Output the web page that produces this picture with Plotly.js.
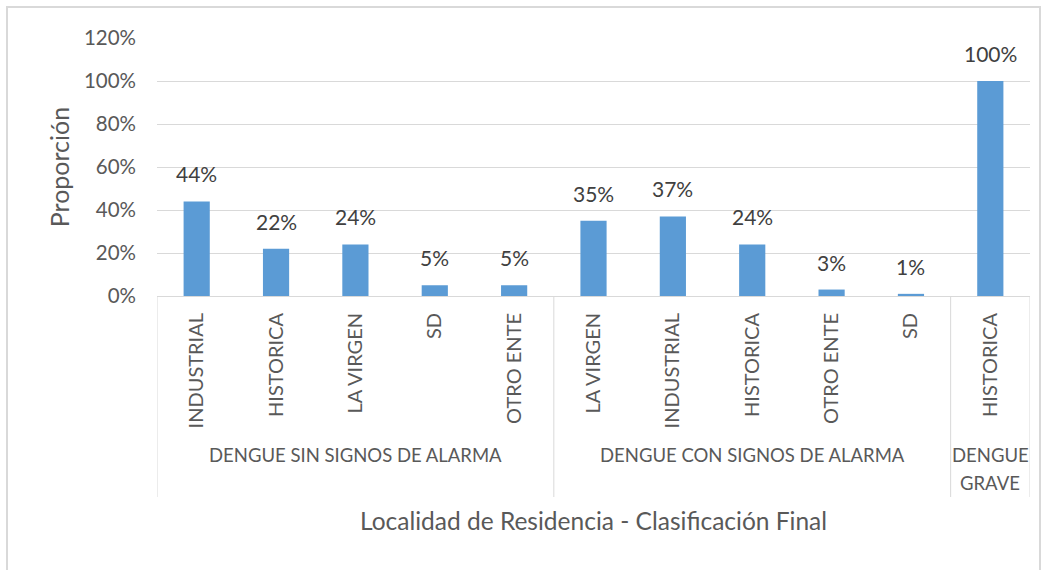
<!DOCTYPE html>
<html><head><meta charset="utf-8">
<script src="https://cdn.plot.ly/plotly-3.0.1.min.js"></script>
<style>html,body{margin:0;padding:0;background:#fff}#c{width:1045px;height:570px}</style>
</head><body><div id="c"></div>
<script>
const localidades = ["INDUSTRIAL","HISTORICA","LA VIRGEN","SD","OTRO ENTE","LA VIRGEN","INDUSTRIAL","HISTORICA","OTRO ENTE","SD","HISTORICA"];
const proporciones = [0.44,0.22,0.24,0.05,0.05,0.35,0.37,0.24,0.03,0.01,1.00];
const etiquetas = ["44%","22%","24%","5%","5%","35%","37%","24%","3%","1%","100%"];
const grupos = [["DENGUE SIN SIGNOS DE ALARMA"],["DENGUE CON SIGNOS DE ALARMA"],["DENGUE","GRAVE"]];
const tamGrupos = [5,5,1];
const yTicks = [0,0.2,0.4,0.6,0.8,1.0,1.2];
const yTickText = ["0%","20%","40%","60%","80%","100%","120%"];

const idx = localidades.map((_, i) => i);
const FONT = "Lato, 'Open Sans', sans-serif";
const plotH = 258;
const px = d => -d / plotH;

const shapes = [];
const annotations = [];
let start = 0;
const bounds = [-0.5];
tamGrupos.forEach((n, g) => {
  const end = start + n;
  bounds.push(end - 0.5);
  const center = (start + end - 1) / 2;
  grupos[g].forEach((line, k) => annotations.push({
    x: center, xref: 'x', y: px(146 + 28 * k), yref: 'paper',
    yanchor: 'top', xanchor: 'center', showarrow: false,
    text: line, font: {family: FONT, size: 18.5, color: '#595959'}, align: 'center'
  }));
  start = end;
});
bounds.forEach(b => shapes.push({type: 'line', xref: 'x', yref: 'paper', x0: b, x1: b, y0: 0, y1: px(201), line: {color: '#d9d9d9', width: 1}}));
idx.forEach(i => annotations.push({
  x: i, y: proporciones[i], xref: 'x', yref: 'y', text: etiquetas[i], showarrow: false,
  yanchor: 'bottom', yshift: 13, font: {family: FONT, size: 21, color: '#404040'}
}));
shapes.push({type: 'rect', xref: 'paper', yref: 'paper', x0: -150/873, x1: 883/873, y0: px(300), y1: (296-7)/plotH, line: {color: '#d9d9d9', width: 2}});

Plotly.newPlot('c', [{
  type: 'bar', x: idx, y: proporciones, marker: {color: '#5b9bd5'}, hoverinfo: 'skip'
}], {
  width: 1045, height: 570,
  margin: {l: 157, r: 15, t: 38, b: 274},
  paper_bgcolor: '#fff', plot_bgcolor: '#fff',
  bargap: 0.67, showlegend: false,
  font: {family: FONT, color: '#595959'},
  xaxis: {
    range: [-0.5, 10.5], tickvals: idx, ticktext: localidades, tickangle: -90,
    tickfont: {family: FONT, size: 20, color: '#595959'}, ticks: '', showgrid: false,
    showline: true, linecolor: '#d9d9d9', zeroline: false, automargin: false, fixedrange: true,
    ticklabelstandoff: 8,
    title: {text: 'Localidad de Residencia - Clasificación Final', font: {family: FONT, size: 24.5, color: '#595959'}, standoff: 85}
  },
  yaxis: {
    range: [0, 1.2], tickvals: yTicks, ticktext: yTickText,
    tickfont: {family: FONT, size: 20.5, color: '#595959'}, gridcolor: '#d9d9d9', gridwidth: 1,
    zeroline: false, showline: false, ticks: '', automargin: false, ticklabelstandoff: 20,
    title: {text: 'Proporción', font: {family: FONT, size: 25, color: '#595959'}, standoff: 7}
  },
  shapes: shapes, annotations: annotations
}, {displayModeBar: false, staticPlot: true});
</script></body></html>
